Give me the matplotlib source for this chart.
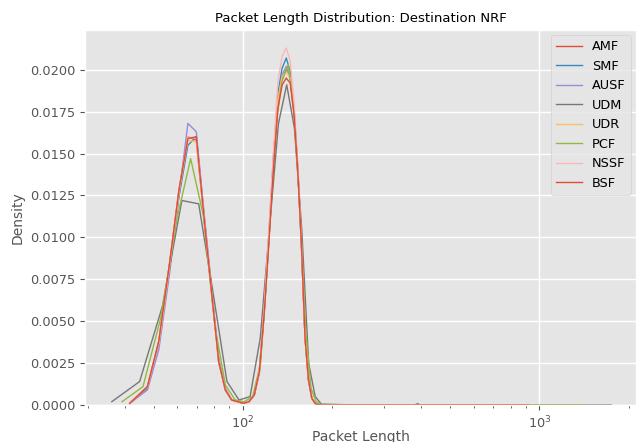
import matplotlib
matplotlib.use('Agg')
import matplotlib.pyplot as plt

plt.style.use('ggplot')

# grid used by most sources
x_fine = [41.5, 47.6, 52.0, 56.4, 60.8, 65.2, 69.6, 74.0, 78.4, 82.8, 87.2, 91.6, 96.0, 100.4,
          104.8, 109.2, 113.6, 118.0, 122.4, 126.8, 131.2, 135.6, 140.0, 144.4, 148.8, 153.2,
          157.6, 162.0, 166.4, 170.8, 175.2, 179.6, 184.0, 250, 380, 925]
# coarser grids for PCF and UDM
x_pcf = [39.1, 46.0, 52.8, 59.7, 66.6, 73.5, 80.3, 87.2, 94.1, 101.0, 107.8, 114.7, 121.6,
         128.4, 135.3, 142.2, 149.1, 155.9, 162.8, 169.7, 176.6, 183.4, 250, 600, 1400]
x_udm = [36.1, 44.8, 53.5, 62.2, 70.9, 79.6, 88.3, 97.0, 105.7, 114.4, 123.1, 131.8, 140.5,
         149.2, 157.9, 166.6, 175.3, 184.0, 250, 379.6, 388.3, 397.0, 800, 1750]

amf = [0.0001, 0.0011, 0.0038, 0.0083, 0.0128, 0.0160, 0.0158, 0.0110, 0.0067, 0.0026, 0.0009,
       0.0003, 0.0002, 0.0001, 0.0002, 0.0006, 0.0020, 0.0056, 0.0100, 0.0145, 0.0180, 0.0195,
       0.0200, 0.0195, 0.0175, 0.0140, 0.0095, 0.0040, 0.0015, 0.0004, 0.0001, 0.00002, 0.0,
       0.0, 0.0, 0.0]
smf = [0.0001, 0.0010, 0.0036, 0.0080, 0.0124, 0.0155, 0.0160, 0.0112, 0.0068, 0.0027, 0.0009,
       0.0003, 0.0002, 0.0001, 0.0002, 0.0006, 0.0021, 0.0058, 0.0103, 0.0149, 0.0186, 0.0201,
       0.0207, 0.0199, 0.0176, 0.0140, 0.0094, 0.0040, 0.0015, 0.0004, 0.0001, 0.00002, 0.0,
       0.0, 0.0, 0.0]
ausf = [0.0001, 0.0009, 0.0033, 0.0077, 0.0125, 0.0168, 0.0163, 0.0114, 0.0070, 0.0028, 0.0010,
        0.0003, 0.0002, 0.0001, 0.0002, 0.0006, 0.0019, 0.0055, 0.0099, 0.0145, 0.0181, 0.0197,
        0.0202, 0.0196, 0.0176, 0.0141, 0.0096, 0.0041, 0.0015, 0.0004, 0.0001, 0.00002, 0.0,
        0.0, 0.0, 0.0]
udr = [0.0001, 0.0011, 0.0037, 0.0082, 0.0127, 0.0158, 0.0157, 0.0111, 0.0067, 0.0026, 0.0009,
       0.0003, 0.0002, 0.0001, 0.0002, 0.0006, 0.0020, 0.0056, 0.0100, 0.0145, 0.0182, 0.0196,
       0.0199, 0.0195, 0.0175, 0.0140, 0.0095, 0.0040, 0.0015, 0.0004, 0.0001, 0.00002, 0.0,
       0.0, 0.0, 0.0]
nssf = [0.0001, 0.0011, 0.0037, 0.0082, 0.0127, 0.0160, 0.0159, 0.0111, 0.0067, 0.0026, 0.0009,
        0.0003, 0.0002, 0.0001, 0.0002, 0.0006, 0.0021, 0.0059, 0.0105, 0.0152, 0.0193, 0.0208,
        0.0213, 0.0205, 0.0180, 0.0142, 0.0095, 0.0040, 0.0015, 0.0004, 0.0001, 0.00002, 0.0,
        0.0, 0.0, 0.0]
bsf = [0.0001, 0.0011, 0.0038, 0.0083, 0.0128, 0.0159, 0.0160, 0.0111, 0.0067, 0.0026, 0.0009,
       0.0003, 0.0002, 0.0001, 0.0002, 0.0006, 0.0020, 0.0055, 0.0098, 0.0142, 0.0177, 0.0191,
       0.0195, 0.0192, 0.0173, 0.0139, 0.0095, 0.0040, 0.0015, 0.0004, 0.0001, 0.00002, 0.0,
       0.0, 0.0, 0.0]
pcf = [0.0002, 0.0011, 0.0052, 0.0110, 0.0147, 0.0113, 0.0048, 0.0012, 0.0003, 0.0002, 0.0005,
       0.0025, 0.0090, 0.0163, 0.0193, 0.0203, 0.0172, 0.0115, 0.0045, 0.0010, 0.0002, 0.00003,
       0.0, 0.0, 0.0]
udm = [0.0002, 0.0014, 0.0059, 0.0122, 0.0120, 0.0065, 0.0014, 0.0003, 0.0005, 0.0040, 0.0107,
       0.0168, 0.0191, 0.0165, 0.0105, 0.0025, 0.0005, 0.00005, 0.0, 0.0, 0.00008, 0.0, 0.0, 0.0]

sources = ['AMF', 'SMF', 'AUSF', 'UDM', 'UDR', 'PCF', 'NSSF', 'BSF']
series = {
    'AMF': (x_fine, amf),
    'SMF': (x_fine, smf),
    'AUSF': (x_fine, ausf),
    'UDM': (x_udm, udm),
    'UDR': (x_fine, udr),
    'PCF': (x_pcf, pcf),
    'NSSF': (x_fine, nssf),
    'BSF': (x_fine, bsf),
}

fig = plt.figure(figsize=(6.36, 4.42), dpi=100)
ax = fig.add_axes([0.1336, 0.0837, 0.8664, 0.8484])

for name in sources:
    xs, ys = series[name]
    ax.plot(xs, ys, lw=1.0, label=name)

ax.set_xscale('log')
ax.set_xlim(29.3, 2120)
ax.set_ylim(0, 0.02237)
ax.set_yticks([0.0, 0.0025, 0.005, 0.0075, 0.01, 0.0125, 0.015, 0.0175, 0.02])
ax.set_yticklabels(['0.0000', '0.0025', '0.0050', '0.0075', '0.0100', '0.0125', '0.0150',
                    '0.0175', '0.0200'])
ax.tick_params(labelsize=9.3, colors='#555555')
ax.grid(True, which='major', color='white', lw=1.0)
ax.set_xlabel('Packet Length', fontsize=10, color='#555555', labelpad=-1)
ax.set_ylabel('Density', fontsize=10, color='#555555')
ax.set_title('Packet Length Distribution: Destination NRF', fontsize=9.5, color='black')

leg = ax.legend(loc='upper right', fontsize=9.3, handlelength=2.0, borderaxespad=0.4)
leg.get_frame().set_facecolor('#E5E5E5')
leg.get_frame().set_edgecolor('#CCCCCC')

fig.savefig('out.png', dpi=100)
